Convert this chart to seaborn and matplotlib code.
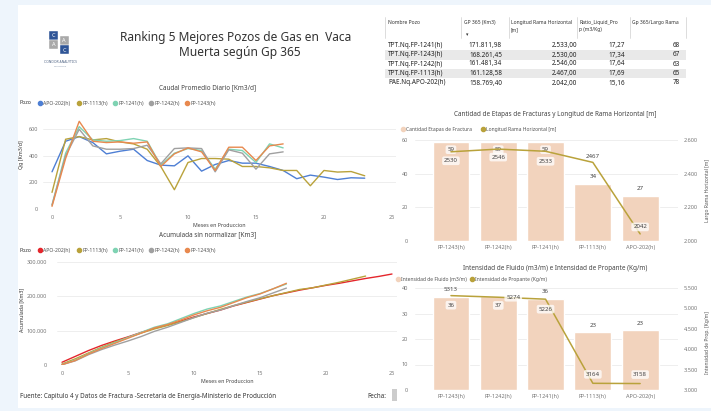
import numpy as np
import pandas as pd
import matplotlib
matplotlib.use("Agg")
import matplotlib.pyplot as plt
from matplotlib.patches import Rectangle
from matplotlib.lines import Line2D
import seaborn as sns

# ---------------------------------------------------------------------------
# data
# ---------------------------------------------------------------------------
POZOS = ["APO-202(h)", "FP-1113(h)", "FP-1241(h)", "FP-1242(h)", "FP-1243(h)"]

qg_apo202 = [280, 510, 545, 500, 415, 435, 450, 365, 330, 325, 400, 285, 335,
             365, 345, 345, 320, 290, 228, 255, 240, 222, 235, 232]
qg_fp1113 = [125, 525, 545, 520, 530, 505, 490, 450, 320, 145, 350, 380, 380,
             375, 320, 320, 310, 290, 290, 175, 290, 278, 282, 250]
qg_fp1241 = [30, 420, 620, 520, 510, 515, 530, 510, 330, 420, 455, 440, 300,
             450, 440, 350, 490, 460]
qg_fp1242 = [30, 400, 600, 475, 450, 450, 455, 480, 340, 455, 460, 455, 280,
             445, 420, 300, 415, 430]
qg_fp1243 = [20, 380, 660, 510, 500, 505, 495, 505, 320, 415, 460, 430, 290,
             465, 465, 365, 475, 490]

acum_apo202 = [8000, 25000, 42000, 57000, 70000, 82000, 95000, 107000, 117000,
               128000, 140000, 150000, 160000, 172000, 182000, 192000, 202000,
               210000, 218000, 225000, 232000, 238000, 245000, 252000, 258000,
               265000]
acum_fp1113 = [3000, 18000, 35000, 52000, 67000, 80000, 93000, 105000, 115000,
               126000, 138000, 150000, 162000, 173000, 183000, 193000, 202000,
               211000, 220000, 225000, 233000, 241000, 250000, 259000]
acum_fp1241 = [1000, 14000, 33000, 50000, 65000, 80000, 95000, 110000, 120000,
               135000, 150000, 163000, 172000, 185000, 198000, 208000, 222000,
               236000]
acum_fp1242 = [1000, 12000, 30000, 45000, 58000, 70000, 83000, 98000, 110000,
               124000, 138000, 151000, 160000, 173000, 185000, 196000, 210000,
               224000]
acum_fp1243 = [1000, 13000, 32000, 48000, 63000, 78000, 93000, 108000, 118000,
               131000, 146000, 158000, 168000, 182000, 196000, 207000, 222000,
               238000]

RANK_POZOS = ["FP-1243(h)", "FP-1242(h)", "FP-1241(h)", "FP-1113(h)", "APO-202(h)"]
etapas = [59, 59, 59, 34, 27]
longitud = [2530, 2546, 2533, 2467, 2042]
fluido = [36.4, 36.7, 35.8, 22.8, 23.4]
propante = [5313, 5274, 5226, 3164, 3158]

tabla_pozo = ["TPT.Nq.FP-1241(h)", "TPT.Nq.FP-1243(h)", "TPT.Nq.FP-1242(h)",
              "TPT.Nq.FP-1113(h)", "PAE.Nq.APO-202(h)"]
tabla_gp365 = [171811.98, 168261.45, 161481.34, 161128.58, 158769.40]
tabla_longitud = [2533.00, 2530.00, 2546.00, 2467.00, 2042.00]
tabla_ratio = [17.27, 17.34, 17.64, 17.69, 15.16]
tabla_gp_largo = [68, 67, 63, 65, 78]

# ---------------------------------------------------------------------------
# style
# ---------------------------------------------------------------------------
sns.set_theme(style="white")
plt.rcParams["font.family"] = ["Noto Sans", "DejaVu Sans"]

W, H = 711, 411
BG = "#eef5fc"
TXT = "#444444"
TICK = "#777777"
GRID = "#ebebeb"
PEACH = "#f2d3bd"
OLIVE = "#b9a23b"
COL_Q = {"APO-202(h)": "#4e7fd4", "FP-1113(h)": "#b9a23b", "FP-1241(h)": "#7fd3b3",
         "FP-1242(h)": "#a0a0a0", "FP-1243(h)": "#e8894f"}
COL_A = dict(COL_Q, **{"APO-202(h)": "#e4262c"})

fig = plt.figure(figsize=(W / 100, H / 100), dpi=100)
fig.patch.set_facecolor(BG)
fig.add_artist(Rectangle((18 / W, 1 - 408 / H), (W - 18) / W, 403 / H,
                         transform=fig.transFigure, fc="white", ec="none", zorder=0))


def fbox(x0, y0, x1, y1):
    return [x0 / W, 1 - y1 / H, (x1 - x0) / W, (y1 - y0) / H]


def ftext(x, y, s, **kw):
    kw.setdefault("va", "center")
    kw.setdefault("color", TXT)
    return fig.text(x / W, 1 - y / H, s, **kw)


def fdot(x, y, color, marker="o", size=3.0):
    fig.add_artist(Line2D([x / W], [1 - y / H], marker=marker, markersize=size,
                          color=color, lw=0, transform=fig.transFigure))


def es_num(v, dec=2):
    s = f"{v:,.{dec}f}"
    return s.replace(",", "X").replace(".", ",").replace("X", ".")


def clean_axis(ax, fs=4):
    for sp in ax.spines.values():
        sp.set_visible(False)
    ax.tick_params(length=0, labelsize=fs, labelcolor=TICK)
    ax.set_xlabel("")
    ax.set_ylabel("")


# ---------------------------------------------------------------------------
# header: logo, title, table
# ---------------------------------------------------------------------------
for (x0, y0, c, letter) in [(49, 31, "#2f5597", "C"), (59.5, 36, "#a9a9a9", "A"),
                            (49, 40.5, "#a9a9a9", "A"), (59.5, 45.5, "#2f5597", "C")]:
    fig.add_artist(Rectangle((x0 / W, 1 - (y0 + 9) / H), 9 / W, 9 / H,
                             transform=fig.transFigure, fc=c, ec="white", lw=0.3))
    ftext(x0 + 4.5, y0 + 4.5, letter, color="white", fontsize=4, ha="center", weight="bold")
ftext(60, 62, "CONDOR ANALYTICS", fontsize=2.4, ha="center", color="#4a5f80")
ftext(60, 66, "SOLUTIONS", fontsize=1.7, ha="center", color="#8090a8")

ftext(236, 38, "Ranking 5 Mejores Pozos de Gas en  Vaca", fontsize=8.6, ha="center", color="#333333")
ftext(240, 52, "Muerta según Gp 365", fontsize=8.6, ha="center", color="#333333")

sep_x = [385, 461, 509, 577, 630, 686]
for x in sep_x:
    fig.add_artist(Line2D([x / W, x / W], [1 - 17 / H, 1 - 38 / H], color="#cfcfcf",
                          lw=0.5, transform=fig.transFigure))
hdr = [(388, "Nombre Pozo"), (464, "GP 365 (Km3)"), (511, "Longitud Rama Horizontal\n[m]"),
       (579, "Ratio_Liquid_Pro\np (m3/Kg)"), (632, "Gp 365/Largo Rama")]
for x, s in hdr:
    ftext(x, 20, s, fontsize=3.6, ha="left", va="top", linespacing=1.5, color="#333333")
ftext(466, 35, "▾", fontsize=3.5, ha="left", color="#333333")

row_y = [45.5, 55, 64, 73.5, 83]
for i, y in enumerate(row_y):
    if i % 2 == 1:
        fig.add_artist(Rectangle((385 / W, 1 - (y + 4.6) / H), 301 / W, 9.2 / H,
                                 transform=fig.transFigure, fc="#e9e9e9", ec="none", zorder=0.5))
    ftext(388, y, tabla_pozo[i], fontsize=4.6, ha="left", color="#222222")
    ftext(502, y, es_num(tabla_gp365[i]), fontsize=4.6, ha="right", color="#222222")
    ftext(577, y, es_num(tabla_longitud[i]), fontsize=4.6, ha="right", color="#222222")
    ftext(625, y, es_num(tabla_ratio[i]), fontsize=4.6, ha="right", color="#222222")
    ftext(680, y, str(tabla_gp_largo[i]), fontsize=4.6, ha="right", color="#222222")


# ---------------------------------------------------------------------------
# left: line charts
# ---------------------------------------------------------------------------
def long_df(series, col):
    rows = []
    for pozo, vals in zip(POZOS, series):
        for m, v in enumerate(vals):
            rows.append({"pozo": pozo, "mes": m, col: v})
    return pd.DataFrame(rows)


def pozo_legend(y, colors):
    ftext(20, y, "Pozo", fontsize=3.8, ha="left", weight="bold", color="#333333")
    for x, p in zip([40, 79, 115, 151, 187], POZOS):
        fdot(x, y, colors[p])
        ftext(x + 3.2, y, p, fontsize=3.7, ha="left", color="#555555")


df_q = long_df([qg_apo202, qg_fp1113, qg_fp1241, qg_fp1242, qg_fp1243], "qg")
ax1 = fig.add_axes(fbox(42.5, 116, 396, 209))
sns.lineplot(data=df_q, x="mes", y="qg", hue="pozo", palette=COL_Q, linewidth=1.0,
             legend=False, ax=ax1)
clean_axis(ax1)
ax1.set_xlim(-0.7, 25.3)
ax1.set_ylim(0, 700)
ax1.set_yticks([0, 200, 400, 600])
ax1.set_xticks([0, 5, 10, 15, 20, 25])
ax1.grid(axis="y", color=GRID, lw=0.6)
ax1.tick_params(axis="y", pad=3)
ax1.tick_params(axis="x", pad=4)
ftext(208, 88, "Caudal Promedio Diario [Km3/d]", fontsize=4.6, ha="center")
pozo_legend(103, COL_Q)
ftext(22, 155, "Qg [Km3/d]", fontsize=3.8, ha="center", rotation=90, color="#333333")
ftext(219, 225, "Meses en Produccion", fontsize=3.8, ha="center", weight="bold", color="#444444")

df_a = long_df([acum_apo202, acum_fp1113, acum_fp1241, acum_fp1242, acum_fp1243], "acum")
ax2 = fig.add_axes(fbox(57, 262, 397, 365))
sns.lineplot(data=df_a, x="mes", y="acum", hue="pozo", palette=COL_A, linewidth=1.0,
             legend=False, ax=ax2)
clean_axis(ax2)
ax2.set_xlim(-0.38, 25.38)
ax2.set_ylim(0, 300000)
ax2.set_yticks([0, 100000, 200000, 300000])
ax2.set_yticklabels([es_num(v, 0) for v in [0, 100000, 200000, 300000]])
ax2.set_xticks([0, 5, 10, 15, 20, 25])
ax2.grid(axis="y", color=GRID, lw=0.6)
ax2.tick_params(axis="y", pad=7)
ax2.tick_params(axis="x", pad=4)
ftext(208, 235, "Acumulada sin normalizar [Km3]", fontsize=4.6, ha="center")
pozo_legend(250, COL_A)
ftext(22, 310, "Acumulada [Km3]", fontsize=3.8, ha="center", rotation=90, color="#333333")
ftext(227, 381, "Meses en Produccion", fontsize=3.8, ha="center", weight="bold", color="#444444")

ftext(20, 396, "Fuente: Capitulo 4 y Datos de Fractura -Secretaría de Energía-Ministerio de Producción",
      fontsize=4.5, ha="left", color="#333333")
ftext(367, 396, "Fecha:", fontsize=4.5, ha="left", color="#333333")
fig.add_artist(Rectangle((392 / W, 1 - 401 / H), 5 / W, 12 / H, transform=fig.transFigure,
                         fc="#cccccc", ec="none"))


# ---------------------------------------------------------------------------
# right: combo bar + line charts
# ---------------------------------------------------------------------------
def put_labels(ax, vals, fmt, dx, dy, boxed):
    for i, (v, ox, oy, b) in enumerate(zip(vals, dx, dy, boxed)):
        bb = dict(boxstyle="round,pad=0.3", fc="white", ec="none", alpha=0.75) if b else None
        ax.annotate(fmt(v), xy=(i, v), xytext=(ox * 0.72, oy * 0.72), textcoords="offset points",
                    ha="center", va="center", fontsize=4.4, color="#444444", bbox=bb, zorder=5)


def combo(box, bars, line, ylim, ylim2, yt, yt2, dx_b, dy_b, box_b, dx_l, dy_l, box_l, bar_fmt):
    ax = fig.add_axes(fbox(*box))
    sns.barplot(x=RANK_POZOS, y=bars, color=PEACH, width=0.78, saturation=1, ax=ax)
    clean_axis(ax)
    ax.set_xlim(-0.76, 4.8)
    ax.set_ylim(*ylim)
    ax.set_yticks(yt)
    ax.grid(axis="y", color=GRID, lw=0.6)
    ax.set_axisbelow(True)
    ax.tick_params(axis="y", pad=5)
    ax.tick_params(axis="x", pad=3)
    axr = ax.twinx()
    sns.lineplot(x=np.arange(len(line)), y=line, color=OLIVE, linewidth=1.1, sort=False, ax=axr)
    clean_axis(axr)
    axr.set_ylim(*ylim2)
    axr.set_yticks(yt2)
    axr.set_yticklabels([es_num(v, 0) for v in yt2])
    axr.tick_params(axis="y", pad=4)
    put_labels(ax, bars, bar_fmt, dx_b, dy_b, box_b)
    put_labels(axr, line, lambda v: f"{v:.0f}", dx_l, dy_l, box_l)
    return ax, axr


combo((415, 140, 678, 241), etapas, longitud, (0, 60), (2000, 2600),
      [0, 20, 40, 60], [2000, 2200, 2400, 2600],
      [0] * 5, [-8, -8, -8, 7, 7], [True, True, True, False, False],
      [0] * 5, [-9, -8, -10, 6, 7], [True, True, True, False, True],
      lambda v: f"{v:.0f}")
ftext(555, 115, "Cantidad de Etapas de Fracturas y Longitud de Rama Horizontal [m]", fontsize=4.6, ha="center")
fdot(403, 129, PEACH)
ftext(406, 129, "Cantidad Etapas de Fractura", fontsize=3.6, ha="left", color="#555555")
fdot(483, 129, OLIVE)
ftext(486, 129, "Longitud Rama Horizontal [m]", fontsize=3.6, ha="left", color="#555555")
ftext(707, 190, "Largo Rama Horizontal [m]", fontsize=3.6, ha="center", rotation=90, color="#555555")

combo((415, 288, 678, 390), fluido, propante, (0, 40), (3000, 5500),
      [0, 10, 20, 30, 40], [3000, 3500, 4000, 4500, 5000, 5500],
      [0] * 5, [-8, -9, 7, 6, 7], [True, True, False, False, False],
      [0, 15, 0, 0, 0], [6, 0, -10, 9, 9], [False, True, True, True, True],
      lambda v: f"{v:.0f}")
ftext(555, 268, "Intensidad de Fluido (m3/m) e Intensidad de Propante (Kg/m)", fontsize=4.6, ha="center")
fdot(398, 279, PEACH)
ftext(401, 279, "Intensidad de Fluido (m3/m)", fontsize=3.6, ha="left", color="#555555")
fdot(472, 279, OLIVE)
ftext(475, 279, "Intensidad de Propante (Kg/m)", fontsize=3.6, ha="left", color="#555555")
ftext(707, 342, "Intensidad de Prop. [Kg/m]", fontsize=3.6, ha="center", rotation=90, color="#555555")

fig.savefig("out.png", dpi=100, facecolor=fig.get_facecolor())
